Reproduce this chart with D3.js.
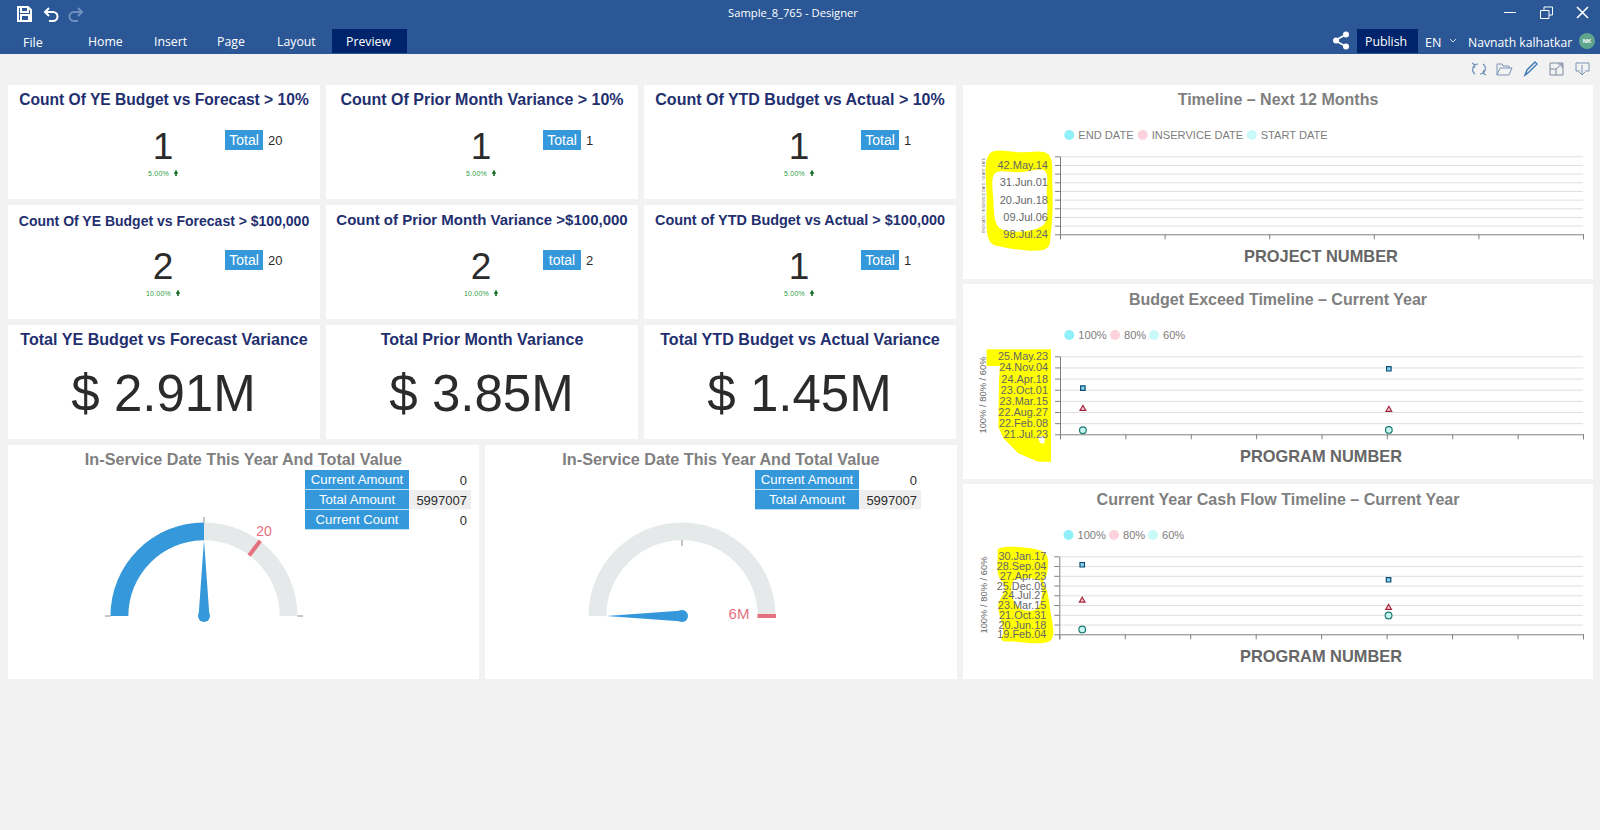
<!DOCTYPE html>
<html>
<head>
<meta charset="utf-8">
<title>Sample_8_765 - Designer</title>
<script src="https://d3js.org/d3.v7.min.js"></script>
<style>
  html, body { margin: 0; padding: 0; background: #f2f2f2; overflow: hidden; }
  svg { display: block; font-family: "Liberation Sans", Arial, sans-serif; }
  .ui { font-family: "Open Sans", "Noto Sans", sans-serif; fill: #fff; }
</style>
</head>
<body>
<div id="chart"></div>
<script>
'use strict';

var svg = d3.select('#chart').append('svg').attr('width', 1600).attr('height', 830);

var NAVY = '#1f2f6f', GREY = '#7f7f7f', BLUE = '#3498db', RED = '#e5717f', DARK = '#2b2b2b';

svg.append('rect').attr('width', 1600).attr('height', 830).attr('fill', '#f2f2f2');

/* ---------- application frame ---------- */
var top_bar = svg.append('g');
top_bar.append('rect').attr('width', 1600).attr('height', 54).attr('fill', '#2b5797');
top_bar.append('rect').attr('x', 332).attr('y', 29).attr('width', 75).attr('height', 24).attr('fill', '#00246b');
top_bar.append('rect').attr('x', 1357).attr('y', 29).attr('width', 61).attr('height', 24).attr('fill', '#00246b');

var uiText = [
  ['Sample_8_765 - Designer', 793, 17, 'middle', 11.2],
  ['File', 23, 47, 'start', 12.5],
  ['Home', 88, 46, 'start', 12.3],
  ['Insert', 154, 46, 'start', 12.3],
  ['Page', 217, 46, 'start', 12.3],
  ['Layout', 277, 46, 'start', 12.3],
  ['Preview', 346, 46, 'start', 12.3],
  ['Publish', 1365, 46, 'start', 12.3],
  ['EN', 1425, 47, 'start', 12.5],
  ['Navnath kalhatkar', 1468, 47, 'start', 12.2]
];
top_bar.selectAll('text.ui').data(uiText).enter().append('text')
  .attr('class', 'ui')
  .attr('x', function(d) { return d[1]; })
  .attr('y', function(d) { return d[2]; })
  .attr('text-anchor', function(d) { return d[3]; })
  .attr('font-size', function(d) { return d[4]; })
  .text(function(d) { return d[0]; });

top_bar.append('circle').attr('cx', 1587).attr('cy', 41).attr('r', 8).attr('fill', '#5fa58e');
top_bar.append('text').attr('x', 1587).attr('y', 43).attr('text-anchor', 'middle')
  .attr('font-size', 6).attr('font-weight', 'bold').attr('fill', '#fff').text('NK');

// header icons, plain strokes
var icons = [
  ['M18 7h10l3 3v11H18zM21 7v5h7V7M21 21v-6h8v6', '#fff', 2],
  ['M49 8l-4 4 4 4M45 12h8a4.5 4.5 0 0 1 0 9h-4', '#fff', 2],
  ['M78 8l4 4-4 4M82 12h-8a4.5 4.5 0 0 0 0 9h4', '#6f8fc0', 2],
  ['M1504 12.5h12', '#fff', 1],
  ['M1540.5 10.5h8.5v8h-8.5zM1544 10.5v-3.5h8.5v8h-3.5', '#fff', 1],
  ['M1577 7l11 11M1588 7l-11 11', '#fff', 1.6],
  ['M1346 34.5l-11 6 11 6', '#fff', 1.6],
  ['M1450 39l3 3 3-3', '#cfd8ea', 1],
  // toolbar
  ['M1478 64a5.5 5.5 0 0 0-3 10M1472 63l3 2-1 3M1480 74a5.5 5.5 0 0 0 3-10M1486 75l-3-2 1-3', '#6d8fb8', 1.2],
  ['M1497 75v-11h5l1 2h6v2M1497 75l3-7h12l-3 7z', '#7a94b5', 1],
  ['M1525 75l2-5 8-8 2 2-8 8z', '#3f78b5', 1.4],
  ['M1550 63h13v12h-13zM1556 75v-6h-6M1556 69l6-5M1558 64h4v4', '#7a8ba0', 1],
  ['M1576 63h13v8h-4M1580 71h-4v-8M1582 65v10M1579 72l3 3 3-3', '#7a94b5', 1]
];
top_bar.selectAll('path.icon').data(icons).enter().append('path')
  .attr('class', 'icon')
  .attr('d', function(d) { return d[0]; })
  .attr('fill', 'none')
  .attr('stroke', function(d) { return d[1]; })
  .attr('stroke-width', function(d) { return d[2]; });
top_bar.selectAll('circle.node').data([[1346, 34.5], [1336, 40.5], [1346, 46.5]]).enter().append('circle')
  .attr('class', 'node').attr('cx', function(d) { return d[0]; }).attr('cy', function(d) { return d[1]; })
  .attr('r', 3).attr('fill', '#fff');

function card(x, y, w, h) {
  svg.append('rect').attr('x', x).attr('y', y).attr('width', w).attr('height', h).attr('fill', '#fff');
}

/* ---------- KPI cards ---------- */
var colX = [8, 326, 644], colW = 312;

var countCards = [
  {col: 0, y: 85, size: 15.6, base: 105, title: 'Count Of YE Budget vs Forecast > 10%', value: 1, label: 'Total', total: 20, pct: 5},
  {col: 1, y: 85, size: 16, base: 105, title: 'Count Of Prior Month Variance > 10%', value: 1, label: 'Total', total: 1, pct: 5},
  {col: 2, y: 85, size: 16, base: 105, title: 'Count Of YTD Budget vs Actual > 10%', value: 1, label: 'Total', total: 1, pct: 5},
  {col: 0, y: 205, size: 14, base: 225.5, title: 'Count Of YE Budget vs Forecast > $100,000', value: 2, label: 'Total', total: 20, pct: 10},
  {col: 1, y: 205, size: 15, base: 224.5, title: 'Count of Prior Month Variance >$100,000', value: 2, label: 'total', total: 2, pct: 10},
  {col: 2, y: 205, size: 14.45, base: 225, title: 'Count of YTD Budget vs Actual > $100,000', value: 1, label: 'Total', total: 1, pct: 5}
];

countCards.forEach(function(d) {
  var x = colX[d.col], cx = x + colW / 2;
  card(x, d.y, colW, 114);
  svg.append('text').attr('x', cx).attr('y', d.base).attr('text-anchor', 'middle')
    .attr('font-size', d.size).attr('font-weight', 'bold').attr('fill', NAVY).text(d.title);
  svg.append('text').attr('x', cx - 1).attr('y', d.y + 74).attr('text-anchor', 'middle')
    .attr('font-size', 37).attr('fill', DARK).text(d.value);
  svg.append('rect').attr('x', x + 217).attr('y', d.y + 45).attr('width', 38).attr('height', 20).attr('fill', BLUE);
  svg.append('text').attr('x', x + 236).attr('y', d.y + 60).attr('text-anchor', 'middle')
    .attr('font-size', 14).attr('fill', '#fff').text(d.label);
  svg.append('text').attr('x', x + 260).attr('y', d.y + 60)
    .attr('font-size', 13).attr('fill', DARK).text(d.total);
  // delta line with the little up arrow
  var pctX = cx - 5.5;
  svg.append('text').attr('x', pctX).attr('y', d.y + 91).attr('text-anchor', 'middle')
    .attr('font-size', 7).attr('letter-spacing', 0.2).attr('fill', '#2f9e44').text(d.pct.toFixed(2) + '%');
  var arrowX = d.pct >= 10 ? cx + 14 : cx + 12;
  svg.append('path').attr('transform', 'translate(' + arrowX + ',' + (d.y + 87.5) + ')')
    .attr('d', d3.symbol().type(d3.symbolTriangle).size(9)).attr('fill', '#0b6b1f');
  svg.append('rect').attr('x', arrowX - 0.8).attr('y', d.y + 88).attr('width', 1.6).attr('height', 3).attr('fill', '#0b6b1f');
});

var moneyCards = [
  {col: 0, title: 'Total YE Budget vs Forecast Variance', value: 2.91},
  {col: 1, title: 'Total Prior Month Variance', value: 3.85},
  {col: 2, title: 'Total YTD Budget vs Actual Variance', value: 1.45}
];
moneyCards.forEach(function(d) {
  var x = colX[d.col], cx = x + colW / 2;
  card(x, 325, colW, 114);
  svg.append('text').attr('x', cx).attr('y', 344.7).attr('text-anchor', 'middle')
    .attr('font-size', 16.1).attr('font-weight', 'bold').attr('fill', NAVY).text(d.title);
  svg.append('text').attr('x', cx - 0.5).attr('y', 411).attr('text-anchor', 'middle')
    .attr('font-size', 51).attr('fill', DARK).text('$ ' + d.value.toFixed(2) + 'M');
});

/* ---------- gauges ---------- */
var gauges = [
  {x: 8, w: 471, cx: 204, max: 28.4, value: 14.2, target: 20, targetText: '20', labelX: 264, labelY: 537, tickR: [93.5, 99],
   rows: [['Current Amount', '0'], ['Total Amount', '5997007'], ['Current Count', '0']], tableX: 305, valueRight: 467, cellRight: 471},
  {x: 485, w: 472, cx: 682, max: 5997007, value: 0, target: 5997007, targetText: '6M', labelX: 739, labelY: 620, tickR: [70, 76],
   rows: [['Current Amount', '0'], ['Total Amount', '5997007']], tableX: 755, valueRight: 917, cellRight: 921}
];

gauges.forEach(function(g) {
  card(g.x, 445, g.w, 234);
  svg.append('text').attr('x', g.x + g.w / 2).attr('y', 465).attr('text-anchor', 'middle')
    .attr('font-size', 16.2).attr('font-weight', 'bold').attr('fill', GREY)
    .text('In-Service Date This Year And Total Value');

  var angle = d3.scaleLinear().domain([0, g.max]).range([-Math.PI / 2, Math.PI / 2]);
  var arc = d3.arc().innerRadius(75.7).outerRadius(93.5);
  var dial = svg.append('g').attr('transform', 'translate(' + g.cx + ',616)');

  dial.append('path').attr('fill', '#e6e9ea')
    .attr('d', arc({startAngle: angle(0), endAngle: angle(g.max)}));
  dial.append('path').attr('fill', BLUE)
    .attr('d', arc({startAngle: angle(0), endAngle: angle(g.value)}));

  // scale ticks at the ends and the middle
  var tickAngles = g.value > 0 ? [0, g.max / 2, g.max] : [g.max / 2];
  dial.selectAll('line.tick').data(tickAngles).enter().append('line')
    .attr('class', 'tick')
    .attr('transform', function(d) { return 'rotate(' + (angle(d) * 180 / Math.PI) + ')'; })
    .attr('y1', -g.tickR[0]).attr('y2', -g.tickR[1])
    .attr('stroke', '#8a8a8a').attr('stroke-width', 1);

  // target marker
  dial.append('rect').attr('x', -2).attr('y', -94).attr('width', 4).attr('height', 18.5).attr('fill', RED)
    .attr('transform', 'rotate(' + (angle(g.target) * 180 / Math.PI) + ')');
  svg.append('text').attr('x', g.labelX).attr('y', g.labelY - 1).attr('text-anchor', 'middle')
    .attr('font-size', g.targetText === '6M' ? 15 : 14).attr('fill', RED).text(g.targetText);

  // needle
  var needle = dial.append('g').attr('transform', 'rotate(' + (angle(g.value) * 180 / Math.PI) + ')');
  needle.append('path').attr('d', 'M0 -76L-5.5 1L5.5 1Z').attr('fill', BLUE);
  needle.append('circle').attr('r', 6).attr('fill', BLUE);

  // little table
  var row = svg.append('g').selectAll('g').data(g.rows).enter().append('g')
    .attr('transform', function(d, i) { return 'translate(0,' + (470 + i * 20) + ')'; });
  row.append('rect').attr('x', g.tableX).attr('width', 104).attr('height', 19.3).attr('fill', BLUE);
  row.append('rect').attr('x', g.tableX + 104).attr('width', g.cellRight - g.tableX - 104).attr('height', 19.3)
    .attr('fill', function(d, i) { return i === 1 ? '#eeeeee' : '#fff'; });
  row.append('text').attr('x', g.tableX + 52).attr('y', 14).attr('text-anchor', 'middle')
    .attr('font-size', 13.2).attr('fill', '#fff').text(function(d) { return d[0]; });
  row.append('text').attr('x', g.valueRight).attr('y', 14.5).attr('text-anchor', 'end')
    .attr('font-size', 13).attr('fill', DARK).text(function(d) { return d[1]; });
});

/* ---------- timeline charts ---------- */
var LEGEND_COL = ['#8ff0fa', '#fcd2dc', '#c9f9f9'];
var DAY = 864e5;
function day(s) { return new Date(s + 'T00:00:00Z'); }

var timelines = [
  {
    top: 85, title: 'Timeline \u2013 Next 12 Months', titleY: 104.7, xTitle: 'PROJECT NUMBER', xTitleY: 262,
    x0: 1060, bands: 5, y0: 234.3, y1: 156.3, start: '1998-07-24', step: 2000, steps: 9, labelEvery: 2, labelSize: 11, pad: 7,
    legendY: 135, legend: [['END DATE', 1069.3], ['INSERVICE DATE', 1142.7], ['START DATE', 1251.7]],
    yTitle: 'END DATE / INSERVICE DATE / START DATE', yTitleSize: 3.6, yTitleX: 985, yTitleMid: 195.5,
    points: [],
    curve: d3.curveCatmullRomClosed.alpha(0.5),
    hl: [
      [[135,205],[225,202],[310,208],[322,300],[318,440],[305,490],[170,485],[135,470],[125,340]],
      [[150,265],[225,262],[300,258],[305,320],[295,420],[165,430],[145,340]]
    ], hlOrigin: [945, 85]
  },
  {
    top: 284, title: 'Budget Exceed Timeline \u2013 Current Year', titleY: 305, xTitle: 'PROGRAM NUMBER', xTitleY: 462,
    x0: 1060, bands: 8, y0: 434.3, y1: 356.3, start: '2021-07-23', step: 200, steps: 7, labelEvery: 1, labelSize: 10.9, pad: 7,
    legendY: 335, legend: [['100%', 1069.3], ['80%', 1115], ['60%', 1154]],
    yTitle: '100% / 80% / 60%', yTitleSize: 9.4, yTitleX: 986, yTitleMid: 395,
    points: [
      {x: 0.35, end: '2023-10-29', inservice: '2022-10-26', start: '2021-10-04'},
      {x: 5.03, end: '2024-10-11', inservice: '2022-10-08', start: '2021-10-10'}
    ],
    curve: d3.curveLinearClosed,
    hl: [
      [[125,208],[318,208],[318,545],[280,545],[220,520],[175,475],[160,440],[162,300],[165,258],[125,258]],
      [[278,470],[300,468],[298,492],[285,488]]
    ], hlOrigin: [945, 280]
  },
  {
    top: 484, title: 'Current Year Cash Flow Timeline \u2013 Current Year', titleY: 505, xTitle: 'PROGRAM NUMBER', xTitleY: 662,
    x0: 1059.3, bands: 8, y0: 634.3, y1: 556.3, start: '2019-02-04', step: 500, steps: 8, labelEvery: 1, labelSize: 10.9, pad: 8,
    legendY: 535, legend: [['100%', 1068.5], ['80%', 1114], ['60%', 1153]],
    yTitle: '100% / 80% / 60%', yTitleSize: 9.4, yTitleX: 987, yTitleMid: 595,
    points: [
      {x: 0.35, end: '2028-11-10', inservice: '2023-11-03', start: '2019-10-12'},
      {x: 5.03, end: '2026-10-01', inservice: '2022-11-02', start: '2021-09-28'}
    ],
    curve: d3.curveCatmullRomClosed.alpha(0.5),
    hl: [
      [[160,222],[270,222],[305,240],[305,300],[295,320],[305,345],[315,400],[318,495],[210,500],[170,495],[175,470],[160,390],[180,340],[160,300],[158,240]],
      [[205,318],[285,318],[288,375],[275,402],[235,405],[205,375]]
    ], hlOrigin: [945, 475]
  }
];

var markStyle = [
  {key: 'end', type: d3.symbolSquare, size: 20, fill: '#8ad6f0', stroke: '#0c4a73'},
  {key: 'inservice', type: d3.symbolTriangle, size: 14, fill: '#f8d2d8', stroke: '#a3283f'},
  {key: 'start', type: d3.symbolCircle, size: 35, fill: '#c6f6f3', stroke: '#1b7a70'}
];

timelines.forEach(function(c) {
  card(963, c.top, 630, c.top === 85 ? 194 : 195);

  svg.append('text').attr('x', 1278).attr('y', c.titleY).attr('text-anchor', 'middle')
    .attr('font-size', 16).attr('font-weight', 'bold').attr('fill', GREY).text(c.title);

  // yellow marker pen scribbled over the date labels
  var pen = d3.line().x(function(p) { return c.hlOrigin[0] + p[0] / 3; })
    .y(function(p) { return c.hlOrigin[1] + p[1] / 3; }).curve(c.curve);
  svg.append('path').attr('fill', '#ffff00').attr('fill-rule', 'evenodd')
    .attr('d', c.hl.map(function(h) { return pen(h); }).join(''));

  var legend = svg.append('g').selectAll('g').data(c.legend).enter().append('g')
    .attr('transform', function(d) { return 'translate(' + d[1] + ',' + c.legendY + ')'; });
  legend.append('circle').attr('r', 5).attr('fill', function(d, i) { return LEGEND_COL[i]; });
  legend.append('text').attr('x', 9).attr('y', 4).attr('font-size', 11.1).attr('fill', '#7d7d7d').text(function(d) { return d[0]; });

  var x = d3.scaleLinear().domain([0, c.bands]).range([c.x0, 1583]);
  var startDate = day(c.start);
  var values = d3.range(c.steps + 1).map(function(i) { return new Date(+startDate + i * c.step * DAY); });
  var y = d3.scaleUtc().domain([values[0], values[values.length - 1]]).range([c.y0, c.y1]);
  var fmt = d3.utcFormat('%y.%b.%d');

  svg.append('g').attr('transform', 'translate(' + c.x0 + ',0)')
    .call(d3.axisLeft(y).tickValues(values.slice(1)).tickSize(-(1583 - c.x0)).tickFormat(''))
    .call(function(g) {
      g.select('.domain').remove();
      g.selectAll('line').attr('stroke', '#dfdfdf');
    });

  svg.append('g').attr('transform', 'translate(' + c.x0 + ',0)')
    .call(d3.axisLeft(y).tickValues(values).tickSizeInner(5).tickSizeOuter(0).tickPadding(c.pad)
      .tickFormat(function(d, i) { return i % c.labelEvery === 0 ? fmt(d) : ''; }))
    .call(function(g) {
      g.selectAll('.domain,line').attr('stroke', '#808080');
      g.selectAll('text').attr('font-family', '"Liberation Sans", Arial, sans-serif')
        .attr('font-size', c.labelSize).attr('fill', '#666');
    });

  svg.append('g').attr('transform', 'translate(0,' + c.y0 + ')')
    .call(d3.axisBottom(x).ticks(c.bands).tickSize(5).tickFormat(''))
    .call(function(g) { g.selectAll('.domain,line').attr('stroke', '#808080'); });

  svg.append('text').attr('transform', 'translate(' + c.yTitleX + ',' + c.yTitleMid + ') rotate(-90)')
    .attr('text-anchor', 'middle').attr('font-size', c.yTitleSize).attr('fill', '#666').text(c.yTitle);

  svg.append('text').attr('x', 1321).attr('y', c.xTitleY).attr('text-anchor', 'middle')
    .attr('font-size', 16.4).attr('font-weight', 'bold').attr('fill', '#666').text(c.xTitle);

  markStyle.forEach(function(m) {
    svg.append('g').selectAll('path').data(c.points).enter().append('path')
      .attr('d', d3.symbol().type(m.type).size(m.size))
      .attr('transform', function(d) { return 'translate(' + x(d.x) + ',' + y(day(d[m.key])) + ')'; })
      .attr('fill', m.fill).attr('stroke', m.stroke).attr('stroke-width', 1.2);
  });
});
</script>
</body>
</html>
